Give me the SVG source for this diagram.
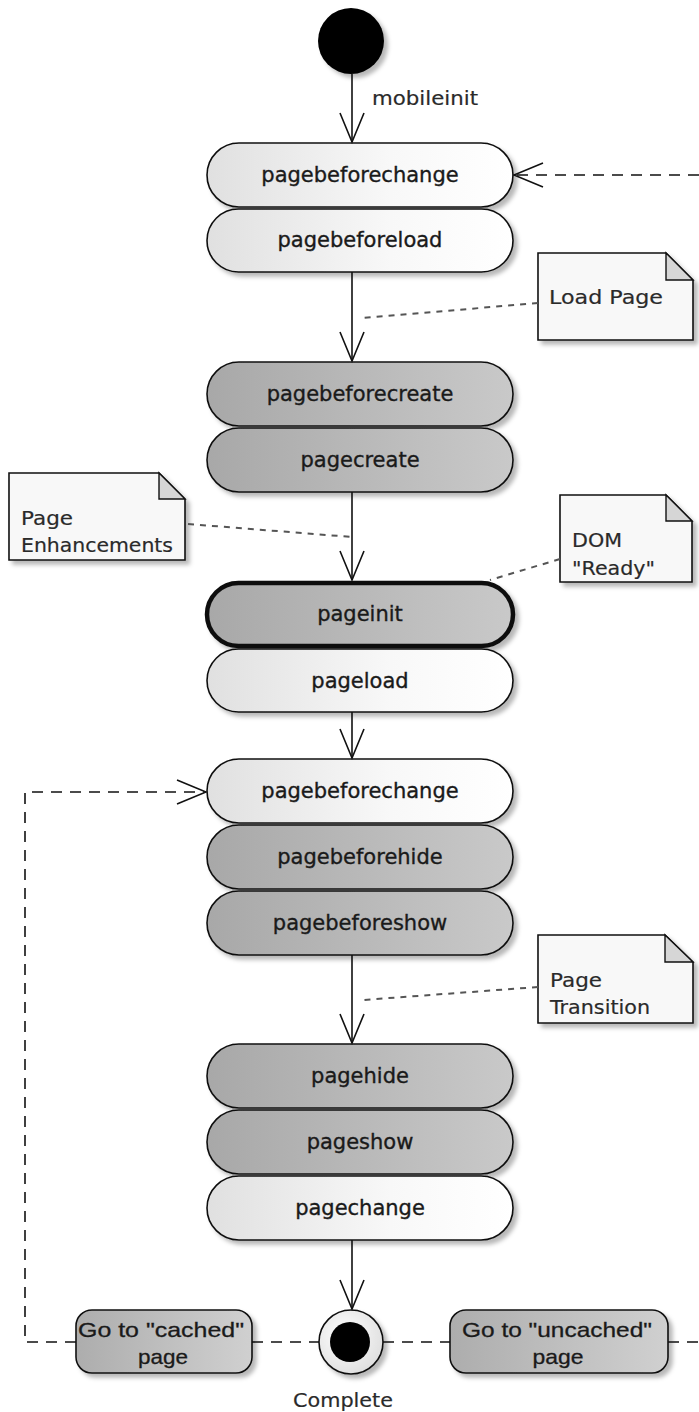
<svg xmlns="http://www.w3.org/2000/svg" width="699" height="1412" viewBox="0 0 699 1412">
<style>
.node{stroke:#111;stroke-width:1.6}
.light{fill:url(#gLight)}
.dark{fill:url(#gDark)}
.goto{fill:url(#gGoto)}
.lbl{font-family:"DejaVu Sans",Verdana,sans-serif;font-size:21px;fill:#1a1a1a;stroke:#1a1a1a;stroke-width:0.35;text-anchor:middle}
.txt{font-family:"DejaVu Sans",Verdana,sans-serif;font-size:20px;fill:#2a2a2a;stroke:#2a2a2a;stroke-width:0.2}
.gtxt{font-family:"Liberation Sans",Arial,sans-serif;font-size:21px;fill:#1a1a1a;stroke:#1a1a1a;stroke-width:0.3;text-anchor:middle}
.note{fill:#f8f8f8;stroke:#111;stroke-width:1.6}
.fold{fill:#d6d6d6;stroke:#111;stroke-width:1.4}
.flow{fill:none;stroke:#111;stroke-width:1.6}
.dash{fill:none;stroke:#111;stroke-width:1.6;stroke-dasharray:11 8}
.dot{fill:none;stroke:#555;stroke-width:2;stroke-dasharray:6 6}
.sh{filter:url(#shadow)}
</style>
<defs>
<linearGradient id="gLight" x1="0" y1="0" x2="1" y2="0">
<stop offset="0" stop-color="#e0e0e0"/><stop offset="0.6" stop-color="#f8f8f8"/><stop offset="1" stop-color="#ffffff"/>
</linearGradient>
<linearGradient id="gDark" x1="0" y1="0" x2="1" y2="0">
<stop offset="0" stop-color="#a8a8a8"/><stop offset="1" stop-color="#c9c9c9"/>
</linearGradient>
<linearGradient id="gGoto" x1="0" y1="0" x2="1" y2="0">
<stop offset="0" stop-color="#adadad"/><stop offset="1" stop-color="#d0d0d0"/>
</linearGradient>
<radialGradient id="gRing" cx="0.4" cy="0.4" r="0.7">
<stop offset="0" stop-color="#ffffff"/><stop offset="1" stop-color="#dcdcdc"/>
</radialGradient>
<filter id="shadow" x="-10%" y="-10%" width="130%" height="140%">
<feDropShadow dx="4" dy="4" stdDeviation="2" flood-color="#000" flood-opacity="0.28"/>
</filter>
<marker id="arr" markerUnits="userSpaceOnUse" viewBox="0 0 32 26" markerWidth="32" markerHeight="26" refX="30" refY="13" orient="auto">
<path d="M1,1 L30,13 L1,25" fill="none" stroke="#111" stroke-width="1.6" stroke-dasharray="none"/>
</marker>
</defs>

<g id="initial">
<circle class="sh" cx="351" cy="41" r="33" fill="#000"/>
</g>

<g id="n-pagebeforechange1">
<rect class="node light sh" x="207" y="143" width="306" height="64" rx="32"/>
<text class="lbl" x="360" y="182">pagebeforechange</text>
</g>
<g id="n-pagebeforeload">
<rect class="node light sh" x="207" y="209" width="306" height="63" rx="31.5"/>
<text class="lbl" x="360" y="247">pagebeforeload</text>
</g>

<g id="n-pagebeforecreate">
<rect class="node dark sh" x="207" y="362" width="306" height="64" rx="32"/>
<text class="lbl" x="360" y="401">pagebeforecreate</text>
</g>
<g id="n-pagecreate">
<rect class="node dark sh" x="207" y="428" width="306" height="64" rx="32"/>
<text class="lbl" x="360" y="467">pagecreate</text>
</g>

<g id="n-pageinit">
<rect class="node dark sh" x="207" y="583" width="306" height="63" rx="31.5" style="stroke-width:4.5"/>
<text class="lbl" x="360" y="621">pageinit</text>
</g>
<g id="n-pageload">
<rect class="node light sh" x="207" y="649" width="306" height="63" rx="31.5"/>
<text class="lbl" x="360" y="688">pageload</text>
</g>

<g id="n-pagebeforechange2">
<rect class="node light sh" x="207" y="759" width="306" height="64" rx="32"/>
<text class="lbl" x="360" y="798">pagebeforechange</text>
</g>
<g id="n-pagebeforehide">
<rect class="node dark sh" x="207" y="825" width="306" height="64" rx="32"/>
<text class="lbl" x="360" y="864">pagebeforehide</text>
</g>
<g id="n-pagebeforeshow">
<rect class="node dark sh" x="207" y="891" width="306" height="64" rx="32"/>
<text class="lbl" x="360" y="930">pagebeforeshow</text>
</g>

<g id="n-pagehide">
<rect class="node dark sh" x="207" y="1044" width="306" height="64" rx="32"/>
<text class="lbl" x="360" y="1083">pagehide</text>
</g>
<g id="n-pageshow">
<rect class="node dark sh" x="207" y="1110" width="306" height="64" rx="32"/>
<text class="lbl" x="360" y="1149">pageshow</text>
</g>
<g id="n-pagechange">
<rect class="node light sh" x="207" y="1176" width="306" height="64" rx="32"/>
<text class="lbl" x="360" y="1215">pagechange</text>
</g>

<g id="final">
<circle class="sh" cx="351" cy="1342" r="32" fill="url(#gRing)" stroke="#111" stroke-width="1.6"/>
<circle cx="350" cy="1342" r="20" fill="#000"/>
<text class="txt" x="343" y="1407" text-anchor="middle" textLength="100" lengthAdjust="spacingAndGlyphs">Complete</text>
</g>

<g id="n-goto-cached">
<rect class="node goto sh" x="76" y="1310" width="176" height="63" rx="16"/>
<text class="gtxt" x="161" y="1337" textLength="166" lengthAdjust="spacingAndGlyphs">Go to "cached"</text>
<text class="gtxt" x="163" y="1364" textLength="50" lengthAdjust="spacingAndGlyphs">page</text>
</g>
<g id="n-goto-uncached">
<rect class="node goto sh" x="450" y="1310" width="218" height="63" rx="16"/>
<text class="gtxt" x="557" y="1337" textLength="190" lengthAdjust="spacingAndGlyphs">Go to "uncached"</text>
<text class="gtxt" x="558" y="1364" textLength="51" lengthAdjust="spacingAndGlyphs">page</text>
</g>

<g id="note-loadpage">
<path class="note sh" d="M538,253 H666 L693,280 V340 H538 Z"/>
<path class="fold" d="M666,253 V280 H693 Z"/>
<text class="txt" x="549" y="304" textLength="114" lengthAdjust="spacingAndGlyphs">Load Page</text>
</g>
<g id="note-enhancements">
<path class="note sh" d="M9,473 H159 L185,499 V560 H9 Z"/>
<path class="fold" d="M159,473 V499 H185 Z"/>
<text class="txt" x="21" y="525" textLength="52" lengthAdjust="spacingAndGlyphs">Page</text>
<text class="txt" x="21" y="552" textLength="152" lengthAdjust="spacingAndGlyphs">Enhancements</text>
</g>
<g id="note-domready">
<path class="note sh" d="M560,495 H666 L692,521 V582 H560 Z"/>
<path class="fold" d="M666,495 V521 H692 Z"/>
<text class="txt" x="572" y="547" textLength="50" lengthAdjust="spacingAndGlyphs">DOM</text>
<text class="txt" x="572" y="575" textLength="83" lengthAdjust="spacingAndGlyphs">"Ready"</text>
</g>
<g id="note-transition">
<path class="note sh" d="M538,935 H665 L693,962 V1023 H538 Z"/>
<path class="fold" d="M665,935 V962 H693 Z"/>
<text class="txt" x="550" y="987" textLength="52" lengthAdjust="spacingAndGlyphs">Page</text>
<text class="txt" x="550" y="1014" textLength="100" lengthAdjust="spacingAndGlyphs">Transition</text>
</g>

<g id="connectors">
<path class="flow" d="M352,74 L352,142" marker-end="url(#arr)"/>
<text class="txt" x="372" y="105" textLength="106" lengthAdjust="spacingAndGlyphs">mobileinit</text>
<path class="flow" d="M352,272 L352,361" marker-end="url(#arr)"/>
<path class="flow" d="M352,492 L352,580" marker-end="url(#arr)"/>
<path class="flow" d="M352,712 L352,758" marker-end="url(#arr)"/>
<path class="flow" d="M352,955 L352,1043" marker-end="url(#arr)"/>
<path class="flow" d="M352,1240 L352,1309" marker-end="url(#arr)"/>
<path class="dash" d="M699,175 L514,175" marker-end="url(#arr)"/>
<path class="dash" d="M76,1342 L25,1342 L25,792 L206,792" marker-end="url(#arr)"/>
<path class="dash" d="M252,1342 L319,1342"/>
<path class="dash" d="M383,1342 L450,1342"/>
<path class="dash" d="M668,1342 L699,1342"/>
<path class="dot" d="M538,303 L363,318"/>
<path class="dot" d="M188,524 L352,537"/>
<path class="dot" d="M560,559 L490,580"/>
<path class="dot" d="M538,987 L363,1000"/>
</g>
</svg>
